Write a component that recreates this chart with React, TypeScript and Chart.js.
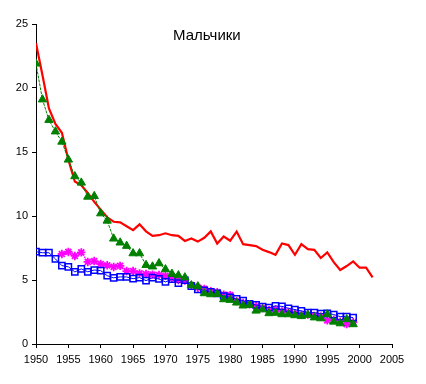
import React, { useEffect, useRef } from "react";
import { Chart, registerables } from "chart.js";

Chart.register(...registerables);

const TITLE = "Мальчики";
const X_TICKS = [1950, 1955, 1960, 1965, 1970, 1975, 1980, 1985, 1990, 1995, 2000, 2005];
const Y_TICKS = [0, 5, 10, 15, 20, 25];

const redStart = 1950;
const redValues = [
  23.5, 21.0, 18.4, 17.2, 16.5, 14.4, 12.7, 12.4, 11.8, 11.1,
  10.5, 9.9, 9.55, 9.5, 9.2, 8.9, 9.35, 8.8, 8.45, 8.5,
  8.65, 8.5, 8.45, 8.05, 8.25, 8.0, 8.3, 8.8, 7.85, 8.4,
  8.07, 8.78, 7.8, 7.73, 7.65, 7.37, 7.18, 6.97, 7.85, 7.73,
  6.97, 7.8, 7.41, 7.36, 6.72, 7.15, 6.4, 5.78, 6.09, 6.45,
  5.96, 5.96, 5.2,
];

const greenStart = 1950;
const greenValues = [
  21.9, 19.1, 17.5, 16.6, 15.8, 14.4, 13.1, 12.6, 11.5, 11.55,
  10.2, 9.63, 8.23, 7.92, 7.66, 7.08, 7.08, 6.17, 6.05, 6.3,
  5.83, 5.48, 5.36, 5.2, 4.58, 4.5, 3.96, 3.88, 3.9, 3.49,
  3.44, 3.23, 3.0, 3.05, 2.6, 2.7, 2.4, 2.43, 2.32, 2.32,
  2.24, 2.17, 2.27, 2.07, 2.0, 2.32, 1.74, 1.61, 1.93, 1.54,
];

const blueStart = 1950;
const blueValues = [
  7.21, 7.13, 7.13, 6.65, 6.12, 6.03, 5.63, 5.87, 5.64, 5.78,
  5.73, 5.34, 5.17, 5.24, 5.24, 5.1, 5.19, 4.95, 5.18, 5.08,
  4.85, 5.06, 4.76, 4.98, 4.53, 4.27, 4.2, 4.07, 3.96, 3.75,
  3.65, 3.52, 3.39, 3.13, 3.05, 2.92, 2.84, 2.97, 2.94, 2.79,
  2.69, 2.58, 2.46, 2.45, 2.37, 2.4, 2.3, 2.14, 2.14, 2.06,
];

const magentaStart = 1954;
const magentaValues = [
  7.03, 7.19, 6.88, 7.16, 6.41, 6.48, 6.25, 6.15, 6.02, 6.1,
  5.7, 5.7, 5.52, 5.47, 5.42, 5.39, 5.32, 5.15, 5.0, 4.95,
  4.6, 4.4, 4.3, 4.12, 4.05, 3.85, 3.82, 3.35, 3.2, 3.1,
  2.95, 2.8, 2.65, 2.7, 2.55, 2.5, 2.4, 2.3, 2.3, 2.2,
  2.15, 1.85, 1.9, 1.75, 1.55, 1.7,
];

const toPoints = (start: number, vals: number[]) =>
  vals.map((v, i) => ({ x: start + i, y: v }));

const FONT = "'Liberation Sans', Arial, sans-serif";

const titlePlugin = {
  id: "innerTitle",
  afterDraw(chart: any) {
    const { ctx, chartArea } = chart;
    ctx.save();
    ctx.font = `15px ${FONT}`;
    ctx.fillStyle = "#000";
    ctx.textAlign = "center";
    ctx.textBaseline = "alphabetic";
    ctx.fillText(TITLE, chartArea.left + chartArea.width * 0.48, chartArea.top + 16);
    ctx.restore();
  },
};

export default function App() {
  const ref = useRef<HTMLCanvasElement>(null);
  useEffect(() => {
    document.body.style.margin = "0";
    const canvas = ref.current!;
    const chart = new Chart(canvas, {
      type: "line",
      data: {
        datasets: [
          {
            label: "green",
            data: toPoints(greenStart, greenValues),
            borderColor: "#008000",
            backgroundColor: "#008000",
            borderWidth: 1,
            borderDash: [3, 1],
            pointStyle: "triangle",
            pointRadius: 4.8,
            pointBorderWidth: 1,
            pointBackgroundColor: "#008000",
            pointBorderColor: "#008000",
            tension: 0,
            order: 0,
          },
          {
            label: "blue",
            data: toPoints(blueStart, blueValues),
            borderColor: "#0000FF",
            backgroundColor: "rgba(0,0,0,0)",
            borderWidth: 1,
            pointStyle: "rect",
            pointRadius: 4.4,
            pointBorderWidth: 1.5,
            pointBackgroundColor: "rgba(255,255,255,0)",
            pointBorderColor: "#0000FF",
            tension: 0,
            order: 1,
          },
          {
            label: "magenta",
            data: toPoints(magentaStart, magentaValues),
            borderColor: "#FF00FF",
            backgroundColor: "#FF00FF",
            borderWidth: 1.5,
            borderDash: [1.5, 1.5],
            pointStyle: "star",
            pointRadius: 4.2,
            pointBorderWidth: 1.8,
            pointBorderColor: "#FF00FF",
            tension: 0,
            order: 2,
          },
          {
            label: "red",
            data: toPoints(redStart, redValues),
            borderColor: "#FF0000",
            backgroundColor: "#FF0000",
            borderWidth: 2.2,
            pointRadius: 0,
            tension: 0,
            order: 3,
          },
        ],
      },
      options: {
        animation: false,
        responsive: false,
        maintainAspectRatio: false,
        layout: { padding: { left: 0, right: 34, top: 24, bottom: 0 } },
        plugins: {
          legend: { display: false },
          tooltip: { enabled: false },
          title: { display: false },
        },
        scales: {
          x: {
            type: "linear",
            min: 1950,
            max: 2005,
            afterBuildTicks: (s: any) => {
              s.ticks = X_TICKS.map((v) => ({ value: v }));
            },
            afterFit: (s: any) => {
              s.height = 40;
            },
            ticks: {
              color: "#000",
              font: { family: FONT, size: 11 },
              padding: 5,
              maxRotation: 0,
              autoSkip: false,
              callback: (v: any) => String(v),
            },
            grid: {
              drawOnChartArea: false,
              drawTicks: true,
              tickLength: 4,
              color: "#000",
            },
            border: { color: "#000", width: 1 },
          },
          y: {
            type: "linear",
            min: 0,
            max: 25,
            afterBuildTicks: (s: any) => {
              s.ticks = Y_TICKS.map((v) => ({ value: v }));
            },
            afterFit: (s: any) => {
              s.width = 36;
            },
            ticks: {
              color: "#000",
              font: { family: FONT, size: 11 },
              padding: 4,
              callback: (v: any) => String(v),
            },
            grid: {
              drawOnChartArea: false,
              drawTicks: true,
              tickLength: 4,
              color: "#000",
            },
            border: { color: "#000", width: 1 },
          },
        },
      },
      plugins: [titlePlugin],
    } as any);
    return () => chart.destroy();
  }, []);
  return (
    <canvas
      ref={ref}
      width={426}
      height={384}
      style={{ display: "block", width: 426, height: 384 }}
    />
  );
}
